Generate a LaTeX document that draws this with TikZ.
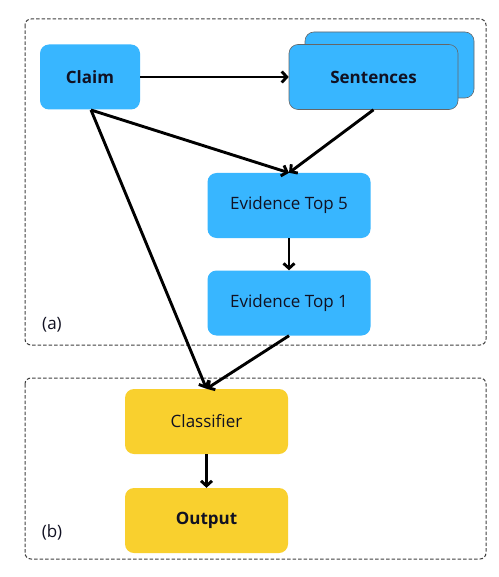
\documentclass[tikz,border=0pt]{standalone}
\usepackage{fontspec}
\setmainfont{Open Sans}
\usetikzlibrary{arrows.meta}
\definecolor{boxblue}{HTML}{38B6FF}
\definecolor{boxyellow}{HTML}{F9D02E}
\definecolor{txt}{HTML}{111122}
\tikzset{
  frame/.style={draw=black!75, dash pattern=on 3.5pt off 2pt, line width=1pt, rounded corners=6pt},
  bluebox/.style={fill=boxblue, rounded corners=9pt, inner sep=0pt, text=txt},
  outlinebox/.style={fill=boxblue, draw=black!60, line width=0.6pt, rounded corners=9pt, inner sep=0pt, text=txt},
  yelbox/.style={fill=boxyellow, rounded corners=9pt, inner sep=0pt, text=txt},
  conn/.style={draw=black, line width=2.9pt, -{Straight Barb[length=5pt,width=11pt,line width=2.9pt]}},
  lbl/.style={font=\fontsize{17}{20}\selectfont, text=txt},
}
\begin{document}
\begin{tikzpicture}[x=1pt,y=-1pt, font=\fontsize{17}{20}\selectfont]
\useasboundingbox (0,0) rectangle (498,577);
\fill[white] (0,0) rectangle (498,577);
% frames
\draw[frame] (25,19) rectangle (486,345);
\draw[frame] (25,378) rectangle (486,559);
\node[lbl] (la) at (52,325) {(a)};
\node[lbl] (lb) at (52,532) {(b)};
% nodes
\node[bluebox, minimum width=100pt, minimum height=65pt] (claim) at (90,77) {\textbf{Claim}};
\node[outlinebox, minimum width=169pt, minimum height=66pt] (sentback) at (389.5,65) {};
\node[outlinebox, minimum width=169pt, minimum height=65pt] (sent) at (373.5,77) {\textbf{Sentences}};
\node[bluebox, minimum width=163pt, minimum height=65pt] (ev5) at (289,205.5) {Evidence Top 5};
\node[bluebox, minimum width=163pt, minimum height=65pt] (ev1) at (289,303) {Evidence Top 1};
\node[yelbox, minimum width=163pt, minimum height=65pt] (cls) at (206.5,421.5) {Classifier};
\node[yelbox, minimum width=163pt, minimum height=65pt] (out) at (206.5,520.5) {\textbf{Output}};
% connectors
\coordinate (claimbot) at (91,110);
\draw[conn] (claim.east) -- (sent.west);
\draw[conn] (claimbot) -- (ev5.north);
\draw[conn] (sent.south) -- (ev5.north);
\draw[conn] (claimbot) -- (cls.north);
\draw[conn] (ev1.south) -- (cls.north);
\draw[conn] (ev5.south) -- (ev1.north);
\draw[conn] (cls.south) -- (out.north);
\end{tikzpicture}
\end{document}
